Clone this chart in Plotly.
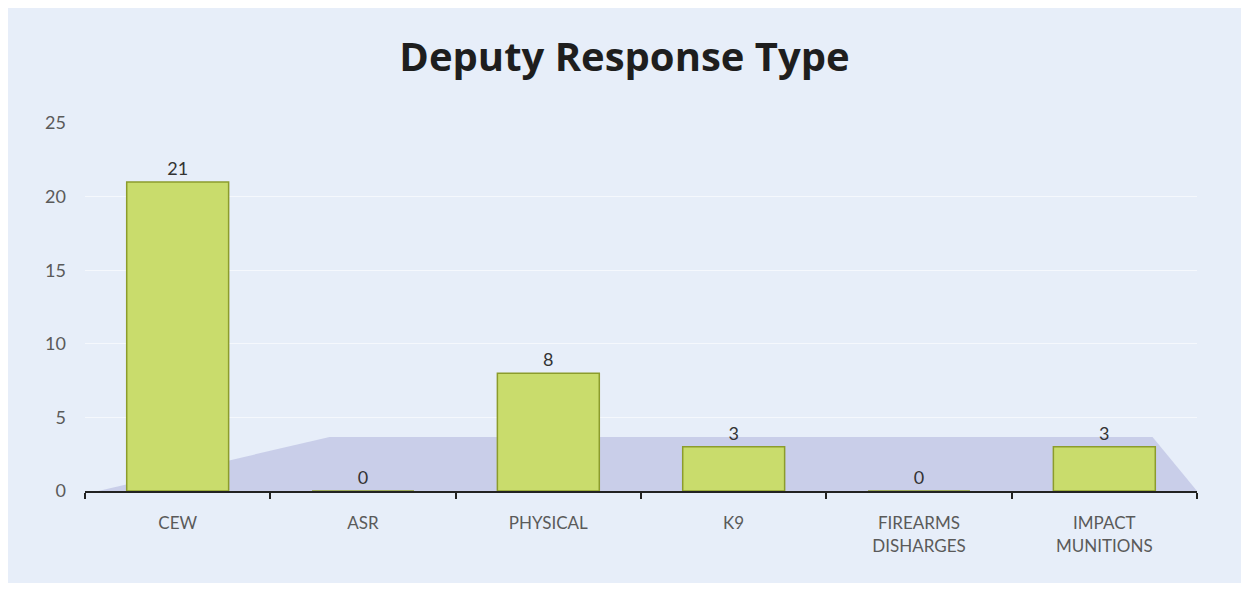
import plotly.graph_objects as go

categories = ["CEW", "ASR", "PHYSICAL", "K9", "FIREARMS<br>DISHARGES", "IMPACT<br>MUNITIONS"]
values = [21, 0, 8, 3, 0, 3]
y_ticks = [0, 5, 10, 15, 20, 25]

fig = go.Figure()

# floor plane (decorative)
fig.add_shape(type="path", xref="paper", yref="paper",
              path="M 0.012 0.0 L 0.22 0.147 L 0.96 0.147 L 1.0 0.0 Z",
              fillcolor="#c3c8e6", line=dict(width=0), layer="below", opacity=0.85)

fig.add_trace(go.Bar(
    x=categories, y=values, width=0.55,
    marker=dict(color="#c9dc6c", line=dict(color="#8c9c2c", width=1.5)),
    text=[str(v) for v in values], textposition="outside",
    textfont=dict(family="Lato, Open Sans, sans-serif", size=18, color="#333333"),
    cliponaxis=False,
))

fig.update_layout(
    width=1233, height=575,
    margin=dict(l=77, r=44, t=115, b=92),
    paper_bgcolor="#e7eef9", plot_bgcolor="rgba(0,0,0,0)",
    title=dict(text="<b>Deputy Response Type</b>", x=0.5, xanchor="center", y=0.915, yanchor="middle",
               font=dict(family="Open Sans, sans-serif", size=40, color="#1e1e1e")),
    showlegend=False, bargap=0.45,
)
fig.update_yaxes(range=[0, 25], tickvals=y_ticks, showgrid=True, gridcolor="rgba(255,255,255,0.6)",
                 zeroline=False, showline=False, ticks="", ticklabelstandoff=18,
                 tickfont=dict(family="Lato, Open Sans, sans-serif", size=18, color="#5a5a5a"))
fig.update_xaxes(showline=True, linecolor="#222222", linewidth=2, ticks="outside", tickson="boundaries",
                 ticklen=6, tickwidth=2, tickcolor="#222222", ticklabelstandoff=16,
                 tickfont=dict(family="Lato, Open Sans, sans-serif", size=17, color="#5a5a5a"))

fig.write_html("out.html")
